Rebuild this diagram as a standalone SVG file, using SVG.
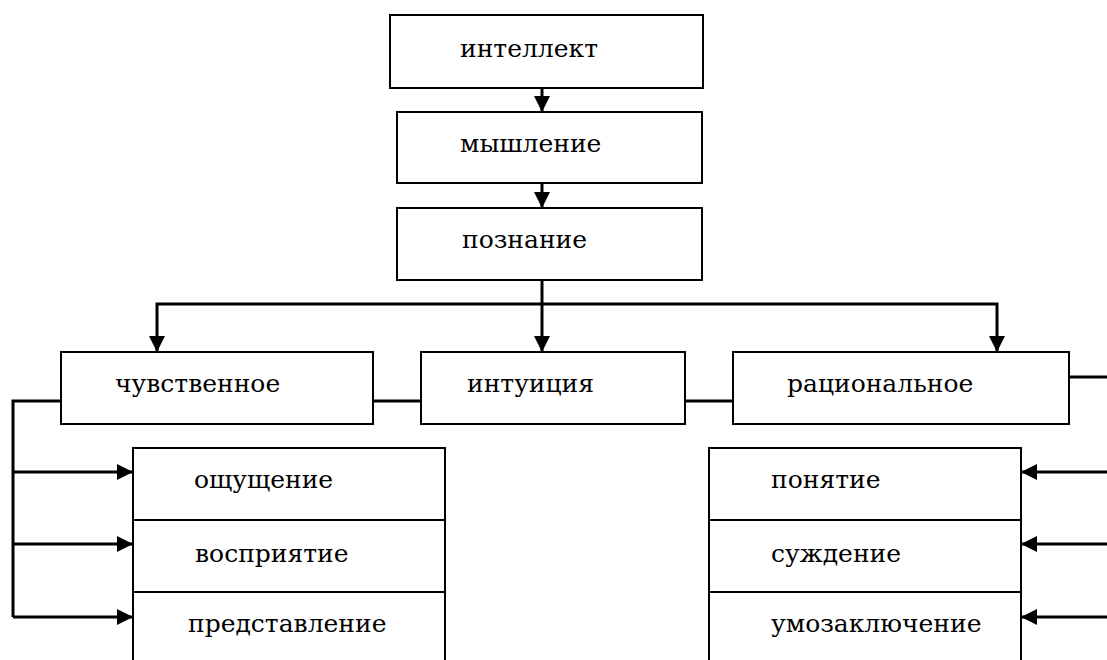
<svg xmlns="http://www.w3.org/2000/svg" width="1107" height="660" viewBox="0 0 1107 660">
<style>
.box{fill:#fff;stroke:#000;stroke-width:2}
.t{font-family:'DejaVu Serif',serif;font-size:25px;fill:#000}
.c{fill:none;stroke:#000;stroke-width:3}
</style>
<defs>
<marker id="ah" markerUnits="userSpaceOnUse" markerWidth="17" markerHeight="17" refX="16" refY="8" orient="auto" viewBox="0 0 17 17">
<path d="M0,0 L16,8 L0,16 z" fill="#000"/>
</marker>
</defs>
<rect width="1107" height="660" fill="#fff"/>
<g id="connectors">
<line class="c" x1="542" y1="88" x2="542" y2="112" marker-end="url(#ah)"/>
<line class="c" x1="542" y1="183" x2="542" y2="208" marker-end="url(#ah)"/>
<line class="c" x1="542" y1="280" x2="542" y2="352" marker-end="url(#ah)"/>
<polyline class="c" points="542,304 997,304 997,352" marker-end="url(#ah)"/>
<polyline class="c" points="542,304 157,304 157,352" marker-end="url(#ah)"/>
<line class="c" x1="373" y1="401" x2="421" y2="401"/>
<line class="c" x1="685" y1="401" x2="733" y2="401"/>
<line class="c" x1="1069" y1="377" x2="1107" y2="377"/>
<polyline class="c" points="61,401 13,401 13,617"/>
<line class="c" x1="13" y1="472" x2="133" y2="472" marker-end="url(#ah)"/>
<line class="c" x1="13" y1="544" x2="133" y2="544" marker-end="url(#ah)"/>
<line class="c" x1="13" y1="617" x2="133" y2="617" marker-end="url(#ah)"/>
<line class="c" x1="1107" y1="472" x2="1021" y2="472" marker-end="url(#ah)"/>
<line class="c" x1="1107" y1="544" x2="1021" y2="544" marker-end="url(#ah)"/>
<line class="c" x1="1107" y1="617" x2="1021" y2="617" marker-end="url(#ah)"/>
</g>
<g id="intellekt"><rect class="box" x="390" y="15" width="313" height="73"/><text class="t" x="460" y="57">интеллект</text></g>
<g id="myshlenie"><rect class="box" x="397" y="112" width="305" height="71"/><text class="t" x="460" y="152">мышление</text></g>
<g id="poznanie"><rect class="box" x="397" y="208" width="305" height="72"/><text class="t" x="462" y="248">познание</text></g>
<g id="chuvstvennoe"><rect class="box" x="61" y="352" width="312" height="72"/><text class="t" x="115" y="392">чувственное</text></g>
<g id="intuiciya"><rect class="box" x="421" y="352" width="264" height="72"/><text class="t" x="467" y="392">интуиция</text></g>
<g id="racionalnoe"><rect class="box" x="733" y="352" width="336" height="72"/><text class="t" x="787" y="392">рациональное</text></g>
<g id="sensory-list">
<rect class="box" x="133" y="448" width="312" height="72"/><text class="t" x="194" y="488">ощущение</text>
<rect class="box" x="133" y="520" width="312" height="72"/><text class="t" x="195" y="562">восприятие</text>
<rect class="box" x="133" y="592" width="312" height="80"/><text class="t" x="188" y="632">представление</text>
</g>
<g id="rational-list">
<rect class="box" x="709" y="448" width="312" height="72"/><text class="t" x="771" y="488">понятие</text>
<rect class="box" x="709" y="520" width="312" height="72"/><text class="t" x="771" y="562">суждение</text>
<rect class="box" x="709" y="592" width="312" height="80"/><text class="t" x="771" y="632">умозаключение</text>
</g>
</svg>
